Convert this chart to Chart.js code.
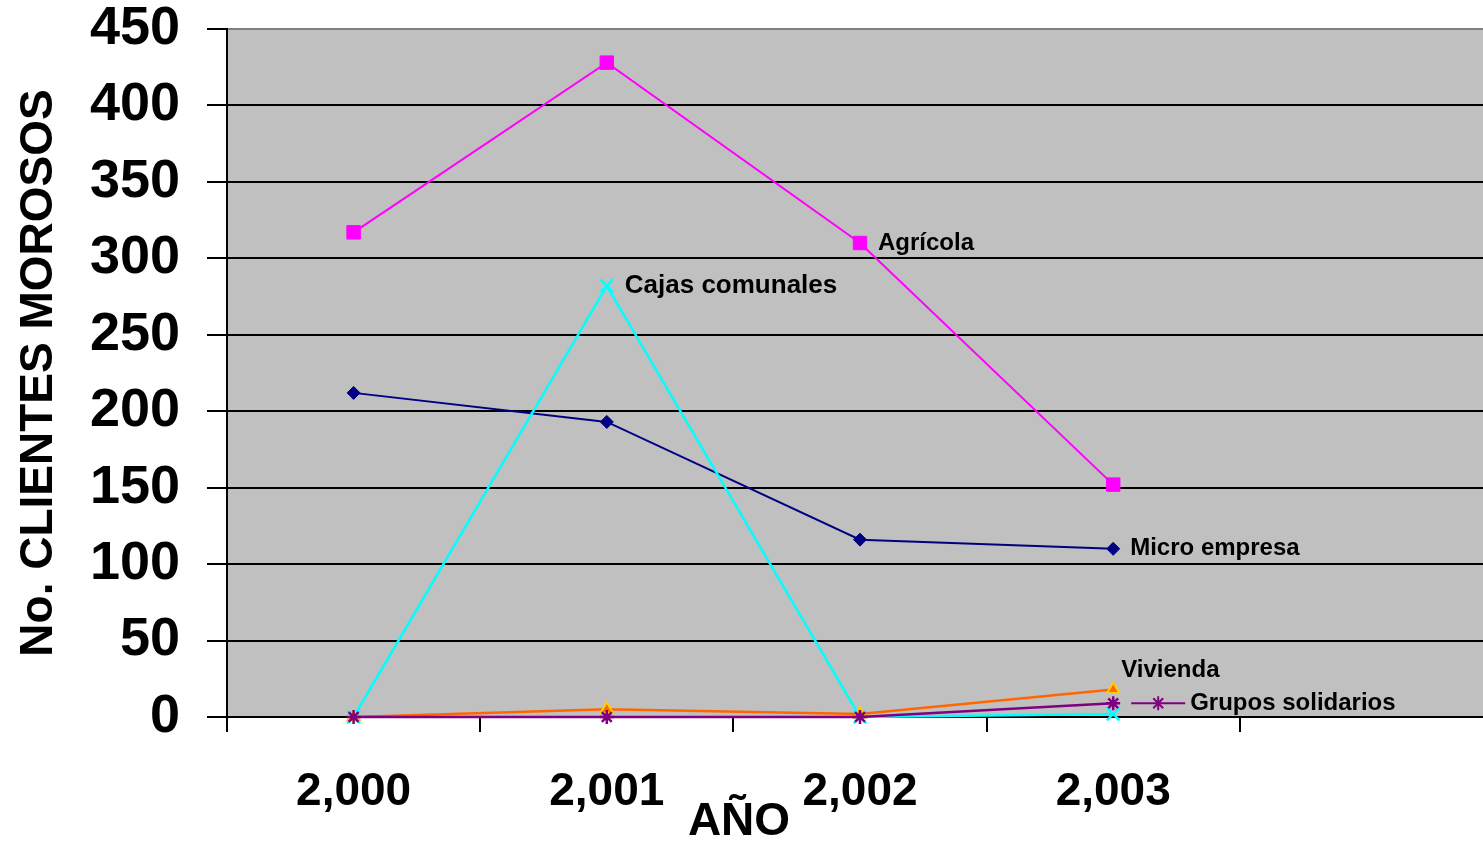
<!DOCTYPE html>
<html lang="es">
<head>
<meta charset="utf-8">
<title>Clientes morosos por año</title>
<script src="https://cdn.jsdelivr.net/npm/chart.js@4/dist/chart.umd.min.js"></script>
<style>
  html, body { margin: 0; padding: 0; background: #ffffff; overflow: hidden; }
  #wrap { width: 1493px; height: 842px; }
</style>
</head>
<body>
<div id="wrap"><canvas id="chart" width="1493" height="842"></canvas></div>
<script>
// Years on the category axis (the fifth slot is left empty)
const years = ['2,000', '2,001', '2,002', '2,003', ''];

// Delinquent clients per credit line
const microEmpresa     = [212, 193, 116, 110];
const agricola         = [317, 428, 310, 152];
const cajasComunales   = [0, 282, 0, 2];
const vivienda         = [0, 5, 2, 18];
const gruposSolidarios = [0, 0, 0, 9];

// Value axis
const yMin = 0;
const yMax = 450;
const yStep = 50;

const FONT = '"Liberation Sans", Arial, Helvetica, sans-serif';

// Grey plotting area behind the series
const plotBackground = {
  id: 'plotBackground',
  beforeDraw(chart) {
    const { ctx, chartArea: a } = chart;
    ctx.save();
    ctx.fillStyle = '#C0C0C0';
    ctx.fillRect(a.left, a.top, a.right - a.left, a.bottom - a.top);
    ctx.restore();
  }
};

// Series names written next to their points, plus the axis title under the years
const seriesLabels = {
  id: 'seriesLabels',
  afterDatasetsDraw(chart) {
    const { ctx } = chart;
    const pt = (ds, i) => chart.getDatasetMeta(ds).data[i];
    ctx.save();
    ctx.fillStyle = '#000000';
    ctx.textAlign = 'left';
    ctx.textBaseline = 'middle';

    ctx.font = 'bold 24px ' + FONT;
    let p = pt(1, 2);
    ctx.fillText('Agrícola', p.x + 18, p.y);
    p = pt(0, 3);
    ctx.fillText('Micro empresa', p.x + 17, p.y);
    p = pt(3, 3);
    ctx.fillText('Vivienda', p.x + 8, p.y - 19);

    ctx.font = 'bold 26px ' + FONT;
    p = pt(2, 1);
    ctx.fillText('Cajas comunales', p.x + 18, p.y);

    // Grupos solidarios: short key line with its star marker, then the name
    ctx.font = 'bold 24px ' + FONT;
    p = pt(4, 3);
    ctx.strokeStyle = '#800080';
    ctx.lineWidth = 2;
    ctx.beginPath();
    ctx.moveTo(p.x + 18, p.y);
    ctx.lineTo(p.x + 72, p.y);
    ctx.stroke();
    const sx = p.x + 45, sy = p.y, r = 7, d = r * Math.SQRT1_2;
    ctx.beginPath();
    ctx.moveTo(sx, sy - r); ctx.lineTo(sx, sy + r);
    ctx.moveTo(sx - d, sy - d); ctx.lineTo(sx + d, sy + d);
    ctx.moveTo(sx - d, sy + d); ctx.lineTo(sx + d, sy - d);
    ctx.stroke();
    ctx.fillText('Grupos solidarios', p.x + 77, p.y);

    // Axis title for the years
    ctx.font = 'bold 46px ' + FONT;
    ctx.textAlign = 'center';
    ctx.textBaseline = 'alphabetic';
    ctx.fillText('AÑO', 739, 835);
    ctx.restore();
  }
};

const lineDefaults = { borderWidth: 2, pointBorderWidth: 2, clip: false, tension: 0, fill: false };

new Chart(document.getElementById('chart'), {
  type: 'line',
  data: {
    labels: years,
    datasets: [
      Object.assign({}, lineDefaults, {
        label: 'Micro empresa', data: microEmpresa, order: 5,
        borderColor: '#000080', backgroundColor: '#000080',
        pointStyle: 'rectRot', pointRadius: 6.5, pointBorderWidth: 1,
        pointBorderColor: '#000080', pointBackgroundColor: '#000080'
      }),
      Object.assign({}, lineDefaults, {
        label: 'Agrícola', data: agricola, order: 4,
        borderColor: '#FF00FF', backgroundColor: '#FF00FF',
        pointStyle: 'rect', pointRadius: 9.5, pointBorderWidth: 1,
        pointBorderColor: '#FF00FF', pointBackgroundColor: '#FF00FF'
      }),
      Object.assign({}, lineDefaults, {
        label: 'Cajas comunales', data: cajasComunales, order: 3,
        borderColor: '#00FFFF', backgroundColor: '#00FFFF',
        pointStyle: 'crossRot', pointRadius: 9, pointBorderWidth: 2.5,
        pointBorderColor: '#00FFFF', borderWidth: 2.5
      }),
      Object.assign({}, lineDefaults, {
        label: 'Vivienda', data: vivienda, order: 2,
        borderColor: '#FF6600', backgroundColor: '#FF6600',
        pointStyle: 'triangle', pointRadius: 7, pointBorderWidth: 2,
        pointBorderColor: '#FFCC00', pointBackgroundColor: '#FF6600', borderWidth: 2.5
      }),
      Object.assign({}, lineDefaults, {
        label: 'Grupos solidarios', data: gruposSolidarios, order: 1,
        borderColor: '#800080', backgroundColor: '#800080',
        pointStyle: 'star', pointRadius: 7, pointBorderWidth: 2.5,
        pointBorderColor: '#800080', borderWidth: 2.5
      })
    ]
  },
  options: {
    responsive: false,
    devicePixelRatio: 1,
    animation: false,
    events: [],
    // the empty fifth year runs past the right edge of the window
    layout: { autoPadding: false, padding: { top: 29, right: 0, bottom: 0, left: 0 } },
    plugins: {
      legend: { display: false },
      tooltip: { enabled: false },
      title: { display: false }
    },
    scales: {
      x: {
        type: 'category',
        offset: true,
        afterFit(scale) {
          scale.height = 125;
          scale.paddingLeft = 0;
          scale.paddingRight = 0;
        },
        grid: {
          display: true, drawOnChartArea: false, drawTicks: true, offset: true,
          tickLength: 15, color: '#000000', lineWidth: 2
        },
        border: { display: true, color: '#000000', width: 2 },
        ticks: {
          autoSkip: false, maxRotation: 0, minRotation: 0, padding: 37,
          color: '#000000',
          font: { family: FONT, size: 46, weight: 'bold', lineHeight: 1 }
        }
      },
      y: {
        min: yMin, max: yMax,
        afterFit(scale) {
          scale.width = 227;
          scale.paddingTop = 0;
          scale.paddingBottom = 0;
        },
        grid: {
          display: true, drawTicks: true, tickLength: 20, lineWidth: 2,
          color: (c) => (c.tick && c.tick.value === yMax ? '#808080' : '#000000'),
          tickColor: '#000000'
        },
        border: { display: true, color: '#000000', width: 2 },
        ticks: {
          stepSize: yStep, padding: 27, color: '#000000',
          font: { family: FONT, size: 54, weight: 'bold', lineHeight: 1 }
        },
        title: {
          display: true, text: 'No. CLIENTES MOROSOS', color: '#000000',
          padding: { top: 16, bottom: 0 },
          font: { family: FONT, size: 46, weight: 'bold', lineHeight: 1 }
        }
      }
    }
  },
  plugins: [plotBackground, seriesLabels]
});
</script>
</body>
</html>
